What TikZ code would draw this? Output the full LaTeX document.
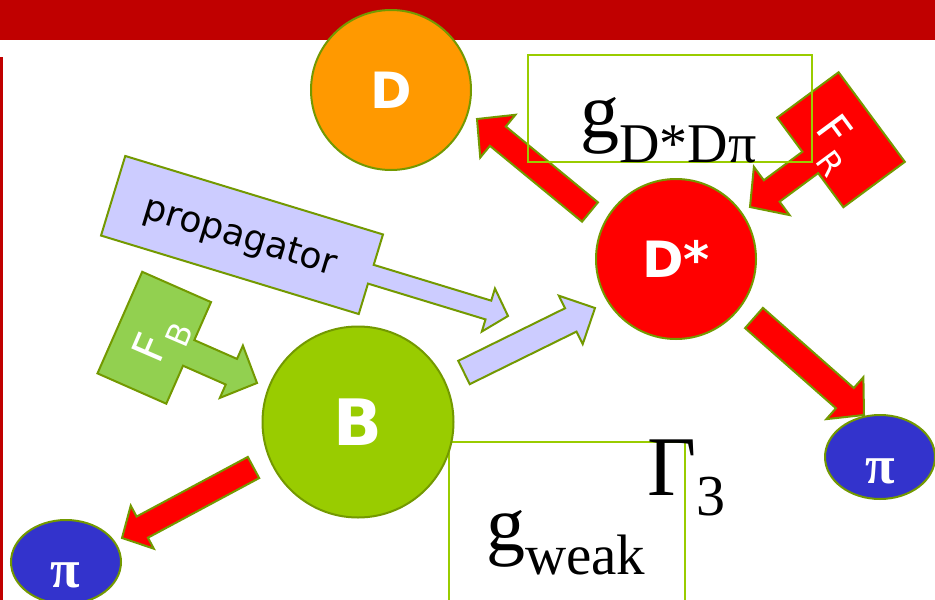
\documentclass[tikz,border=0pt]{standalone}
\usepackage{fontspec}
\setmainfont{Liberation Serif}
\newfontfamily\vsans{DejaVu Sans}
\usetikzlibrary{calc,shapes.geometric}
\definecolor{barred}{HTML}{C00000}
\definecolor{edgegreen}{HTML}{739900}
\definecolor{bgreen}{HTML}{99CC00}
\definecolor{dorange}{HTML}{FF9900}
\definecolor{pired}{HTML}{FF0000}
\definecolor{piblue}{HTML}{3333CC}
\definecolor{lav}{HTML}{CCCCFF}
\definecolor{fbgreen}{HTML}{92D050}
% block arrow: #1 tail, #2 tip, #3 half shaft, #4 half head, #5 head length, #6 style
\newcommand\blockarrow[6]{%
  \coordinate (hb) at ($(#2)!#5!(#1)$);
  \draw[#6] ($(#1)!#3!90:(#2)$) -- ($(hb)!#3!-90:(#1)$) -- ($(hb)!#4!-90:(#1)$) -- (#2)
    -- ($(hb)!#4!90:(#1)$) -- ($(hb)!#3!90:(#1)$) -- ($(#1)!#3!-90:(#2)$) -- cycle;
}
% callout arrow: #1 box centre, #2 tip, #3 half depth, #4 half width, #5 half shaft, #6 half head, #7 head length, #8 style
\newcommand\calloutarrow[8]{%
  \coordinate (cf) at ($(#1)!#3!(#2)$);
  \coordinate (cb) at ($(#1)!#3!180:(#2)$);
  \coordinate (ch) at ($(#2)!#7!(#1)$);
  \draw[#8] ($(cb)!#4!90:(#2)$) -- ($(cf)!#4!90:(#2)$) -- ($(cf)!#5!90:(#2)$)
    -- ($(ch)!#5!90:(#2)$) -- ($(ch)!#6!90:(#2)$) -- (#2) -- ($(ch)!#6!-90:(#2)$)
    -- ($(ch)!#5!-90:(#2)$) -- ($(cf)!#5!-90:(#2)$) -- ($(cf)!#4!-90:(#2)$)
    -- ($(cb)!#4!-90:(#2)$) -- cycle;
}
\begin{document}
\begin{tikzpicture}[x=1pt,y=-1pt,
  ball/.style={circle, draw=edgegreen, line width=2pt, inner sep=0pt, text=white},
  pion/.style={ellipse, draw=edgegreen, line width=2pt, fill=piblue, minimum width=110pt, minimum height=84pt, inner sep=0pt},
  pitext/.style={text=white, inner sep=0pt, font=\fontsize{54}{54}\selectfont\bfseries},
  fat/.style={draw=edgegreen, line width=2pt, line join=miter},
  gframe/.style={draw=bgreen, line width=2.5pt},
  bigsym/.style={inner sep=0pt, anchor=base west},
  ftext/.style={text=white, inner sep=0pt, font=\vsans\fontsize{44}{44}\selectfont}]
\useasboundingbox (0,0) rectangle (935,600);
\fill[white] (0,0) rectangle (935,600);
% header bar and left rule
\fill[barred] (0,0) rectangle (935,40);
\fill[barred] (0,57) rectangle (3,600);
% weak vertex frame (under B)
\draw[gframe] (449,442) rectangle (685,610);
% particles
\node[ball, fill=dorange, minimum size=160pt, font=\vsans\bfseries\fontsize{50}{50}\selectfont] (D) at (391,90) {D};
\node[ball, fill=pired, minimum size=160pt, font=\vsans\bfseries\fontsize{50}{50}\selectfont] (Dst) at (676,259) {D*};
\node[ball, fill=bgreen, minimum size=191pt, font=\vsans\bfseries\fontsize{64}{64}\selectfont] (B) at (358,422) {B};
\node[pion] (piL) at (66,562) {};
\node[pion] (piR) at (880,457) {};
\node[pitext] (piLt) at (65,575) {π};
\node[pitext] (piRt) at (880,471) {π};
% block arrows
\coordinate (a1t) at (590,212); \coordinate (a1p) at (477,119);
\blockarrow{a1t}{a1p}{12.5pt}{27.7pt}{27pt}{fat, fill=pired}
\coordinate (a2t) at (464,372.5); \coordinate (a2p) at (595,308);
\blockarrow{a2t}{a2p}{13pt}{27pt}{27pt}{fat, fill=lav}
\coordinate (a3t) at (253.5,467.5); \coordinate (a3p) at (122,538);
\blockarrow{a3t}{a3p}{12pt}{24.4pt}{23pt}{fat, fill=pired}
\coordinate (a4t) at (754,318); \coordinate (a4p) at (864,415);
\blockarrow{a4t}{a4p}{13.5pt}{28pt}{25.5pt}{fat, fill=pired}
% callouts
\coordinate (pc) at (242,235); \coordinate (pp) at (508,316);
\calloutarrow{pc}{pp}{134.7pt}{41.6pt}{9.8pt}{22.5pt}{20.5pt}{fat, fill=lav}
\coordinate (fbc) at (154.25,337.75); \coordinate (fbp) at (257,383);
\calloutarrow{fbc}{fbp}{37.6pt}{55.5pt}{14pt}{28.6pt}{28pt}{fat, fill=fbgreen}
\coordinate (frc) at (841,139.75); \coordinate (frp) at (750,207);
\calloutarrow{frc}{frp}{38.2pt}{55.7pt}{13.3pt}{30pt}{27pt}{fat, fill=pired}
% strong vertex frame (over arrows)
\draw[gframe] (528,55) rectangle (812,162);
% texts
\node[rotate=-16.8, inner sep=0pt, font=\vsans\fontsize{36}{36}\selectfont] (prop) at (240,238) {propagator};
\node[ftext, rotate=66.7] (fbt) at (162,341) {F\raisebox{-17pt}{\fontsize{32}{32}\selectfont B}};
\node[ftext, rotate=-53.5] (frt) at (834,145) {F\raisebox{-19pt}{\fontsize{32}{32}\selectfont R}};
\node[bigsym] (gD) at (580,137) {\fontsize{78}{78}\selectfont g\fontsize{56}{56}\selectfont\raisebox{-25pt}{D*Dπ}};
\node[bigsym] (gw) at (486,550) {\fontsize{78}{78}\selectfont g\fontsize{57}{57}\selectfont\raisebox{-24pt}{weak}};
\node[bigsym] (G3) at (647,495) {\fontsize{85}{85}\selectfont Γ\fontsize{58}{58}\selectfont\raisebox{-20pt}{3}};
\end{tikzpicture}
\end{document}
